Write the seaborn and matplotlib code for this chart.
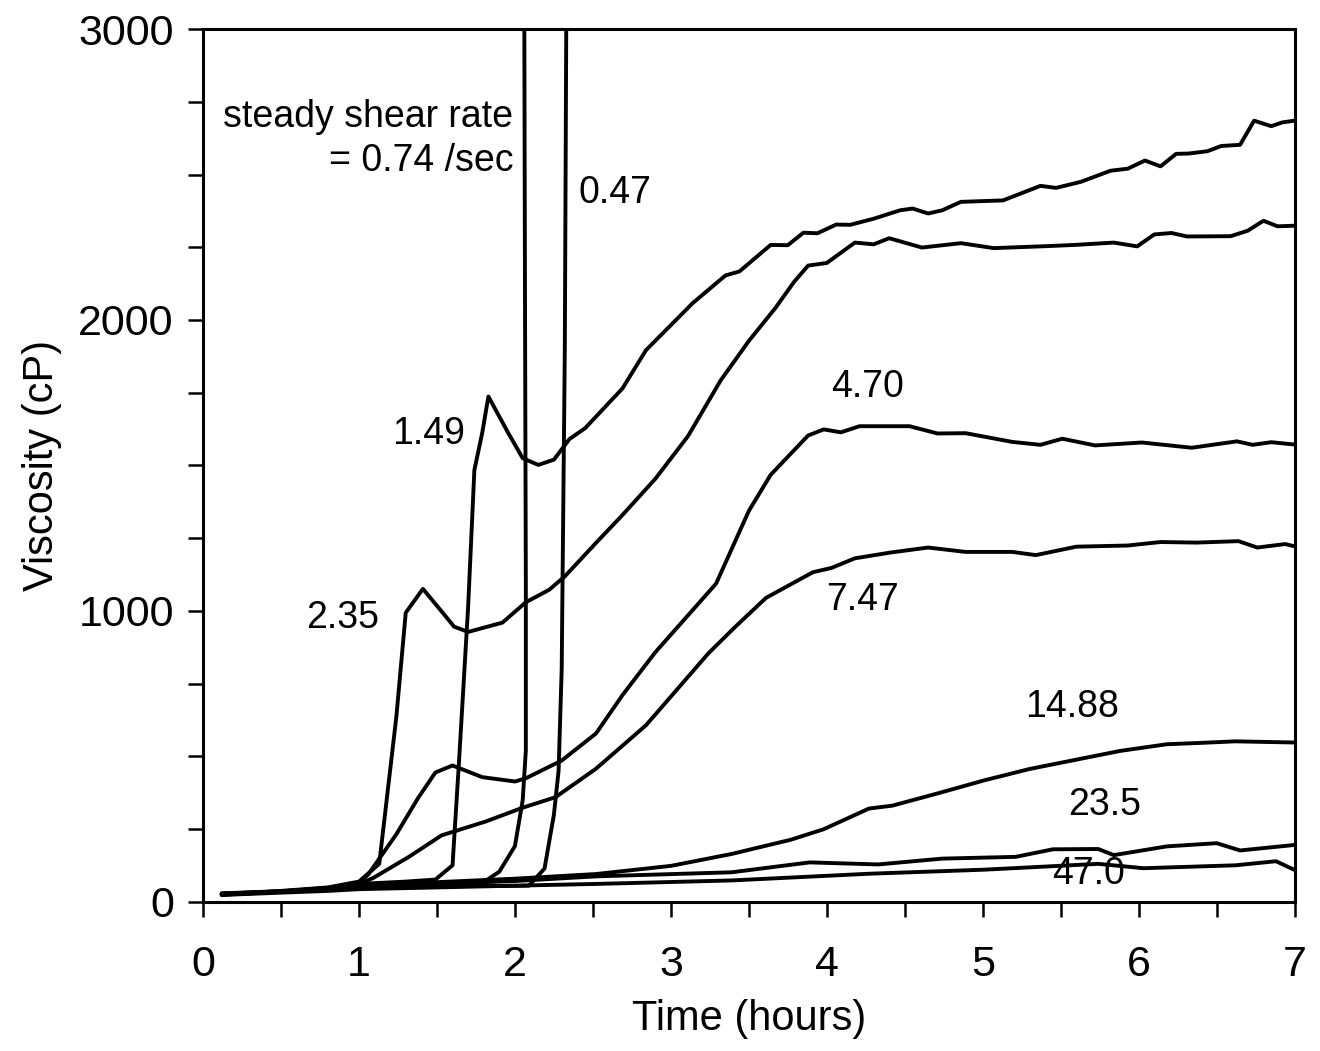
import numpy as np
import pandas as pd
import seaborn as sns
import matplotlib.pyplot as plt
from matplotlib.ticker import MultipleLocator

# time (hours) / viscosity (cP), one pair per shear rate
t_047 = [0.12, 0.5, 0.8, 1.0, 1.5, 1.9, 2.09, 2.19, 2.25, 2.28, 2.30, 2.32, 2.33]
v_047 = [25, 35, 44, 52, 58, 55, 56, 115, 300, 450, 800, 1900, 3100]

t_074 = [0.12, 0.5, 0.8, 1.0, 1.5, 1.77, 1.90, 2.00, 2.05, 2.07, 2.07, 2.065, 2.06]
v_074 = [27, 35, 45, 55, 60, 58, 104, 192, 350, 520, 1100, 2000, 3100]

t_149 = [0.12, 0.5, 0.8, 1.0, 1.3, 1.49, 1.60, 1.64, 1.70, 1.74, 1.79, 1.83, 1.96, 2.05,
         2.15, 2.25, 2.35, 2.45, 2.69, 2.84, 3.14, 3.35, 3.44, 3.64, 3.75, 3.85, 3.94,
         4.06, 4.15, 4.30, 4.47, 4.55, 4.65, 4.74, 4.86, 5.13, 5.37, 5.47, 5.63, 5.82,
         5.93, 6.04, 6.14, 6.24, 6.32, 6.44, 6.53, 6.65, 6.74, 6.85, 6.92, 7.0]
v_149 = [30, 36, 48, 62, 70, 77, 126, 469, 1014, 1484, 1611, 1737, 1609, 1525,
         1502, 1520, 1591, 1628, 1765, 1896, 2058, 2153, 2167, 2258, 2257, 2300, 2298,
         2328, 2327, 2348, 2377, 2383, 2366, 2377, 2406, 2411, 2461, 2454, 2475, 2513,
         2520, 2548, 2528, 2571, 2572, 2580, 2598, 2602, 2685, 2666, 2679, 2685]

t_235 = [0.12, 0.5, 0.8, 1.0, 1.13, 1.24, 1.30, 1.41, 1.54, 1.61, 1.70, 1.92, 2.07, 2.22,
         2.32, 2.52, 2.69, 2.90, 3.11, 3.32, 3.50, 3.67, 3.79, 3.88, 4.00, 4.18, 4.30,
         4.40, 4.61, 4.86, 5.07, 5.42, 5.59, 5.84, 5.99, 6.10, 6.21, 6.31, 6.59, 6.70,
         6.80, 6.89, 7.0]
v_235 = [28, 38, 50, 70, 131, 638, 994, 1076, 992, 946, 928, 960, 1030, 1073,
         1119, 1234, 1330, 1454, 1601, 1793, 1928, 2041, 2131, 2187, 2196, 2266, 2260,
         2281, 2249, 2264, 2247, 2254, 2258, 2266, 2253, 2294, 2299, 2287, 2288, 2307,
         2341, 2322, 2324]

t_470 = [0.12, 0.5, 0.8, 1.0, 1.06, 1.24, 1.38, 1.49, 1.60, 1.79, 2.00, 2.07, 2.30, 2.52,
         2.69, 2.84, 2.90, 3.29, 3.50, 3.64, 3.88, 3.98, 4.09, 4.21, 4.53, 4.71, 4.89,
         5.19, 5.37, 5.51, 5.72, 6.02, 6.34, 6.63, 6.73, 6.85, 7.0]
v_470 = [26, 36, 48, 65, 95, 233, 358, 445, 469, 429, 414, 425, 486, 579,
         711, 816, 858, 1094, 1344, 1468, 1603, 1624, 1614, 1635, 1635, 1610, 1611,
         1581, 1571, 1592, 1569, 1579, 1561, 1583, 1571, 1580, 1572]

t_747 = [0.12, 0.5, 0.8, 1.0, 1.09, 1.32, 1.53, 1.81, 2.05, 2.26, 2.52, 2.84, 3.24, 3.41,
         3.61, 3.76, 3.91, 4.03, 4.18, 4.41, 4.65, 4.89, 5.19, 5.34, 5.60, 5.93, 6.14,
         6.37, 6.64, 6.76, 6.94, 7.0]
v_747 = [27, 37, 47, 62, 82, 155, 229, 276, 324, 360, 458, 607, 854, 944,
         1045, 1089, 1133, 1148, 1181, 1201, 1218, 1203, 1203, 1192, 1221, 1225, 1237,
         1235, 1240, 1218, 1230, 1222]

t_1488 = [0.12, 0.5, 0.8, 1.0, 1.5, 2.0, 2.52, 3.00, 3.39, 3.77, 3.98, 4.27, 4.42, 4.71,
          5.01, 5.30, 5.59, 5.88, 6.18, 6.41, 6.62, 7.0]
v_1488 = [25, 35, 45, 55, 68, 80, 96, 124, 165, 214, 250, 321, 331, 373,
          418, 457, 488, 519, 542, 547, 552, 548]

t_235b = [0.12, 0.5, 0.8, 1.0, 1.5, 2.0, 2.52, 3.39, 3.89, 4.33, 4.74, 5.21, 5.45, 5.74,
          5.84, 6.18, 6.50, 6.65, 7.0]
v_235b = [28, 36, 44, 52, 62, 72, 88, 102, 136, 129, 149, 155, 181, 182,
          161, 191, 202, 177, 196]

t_470b = [0.12, 0.5, 0.8, 1.0, 1.5, 2.0, 2.52, 3.39, 4.27, 5.01, 5.45, 5.74, 6.03, 6.62,
          6.88, 7.0]
v_470b = [24, 32, 38, 44, 50, 56, 62, 74, 97, 111, 123, 131, 116, 126,
          140, 110]

curves = [(t_047, v_047), (t_074, v_074), (t_149, v_149), (t_235, v_235),
          (t_470, v_470), (t_747, v_747), (t_1488, v_1488), (t_235b, v_235b),
          (t_470b, v_470b)]

# label text and where it sits (hours, cP)
label_txt = ['steady shear rate', '= 0.74 /sec', '0.47', '1.49', '2.35',
             '4.70', '7.47', '14.88', '23.5', '47.0']
label_x = [1.99, 1.99, 2.41, 1.68, 1.13, 4.26, 4.23, 5.57, 5.78, 5.68]
label_y = [2698, 2546, 2438, 1608, 975, 1770, 1038, 671, 332, 96]
label_ha = ['right', 'right', 'left', 'right', 'right',
            'center', 'center', 'center', 'center', 'center']

sns.set_style('ticks')
plt.rcParams['font.family'] = ['Liberation Sans', 'DejaVu Sans']

fig = plt.figure(figsize=(13.2, 10.51), dpi=100)
ax = fig.add_axes([0.1538, 0.1418, 0.827, 0.8306])

for t, v in curves:
    sns.lineplot(x=t, y=v, sort=False, estimator=None, color='black',
                 linewidth=2.8, ax=ax)

for txt, x, y, ha in zip(label_txt, label_x, label_y, label_ha):
    ax.text(x, y, txt, fontsize=27, ha=ha, va='center', color='black')

ax.set_xlim(0, 7)
ax.set_ylim(0, 3000)
ax.xaxis.set_major_locator(MultipleLocator(1))
ax.xaxis.set_minor_locator(MultipleLocator(0.5))
ax.yaxis.set_major_locator(MultipleLocator(1000))
ax.yaxis.set_minor_locator(MultipleLocator(250))

for side in ['top', 'right', 'bottom', 'left']:
    ax.spines[side].set_visible(True)
    ax.spines[side].set_linewidth(2.2)
    ax.spines[side].set_color('black')

ax.tick_params(axis='both', which='both', direction='out', length=11, width=1.8,
               colors='black', labelsize=31)
ax.tick_params(axis='x', which='both', pad=20)
ax.tick_params(axis='y', which='both', pad=10)

ax.set_xlabel('Time (hours)', fontsize=30, labelpad=10, color='black')
ax.set_ylabel('Viscosity (cP)', fontsize=30, labelpad=12, color='black')

fig.savefig('out.png', dpi=100, facecolor='white')
